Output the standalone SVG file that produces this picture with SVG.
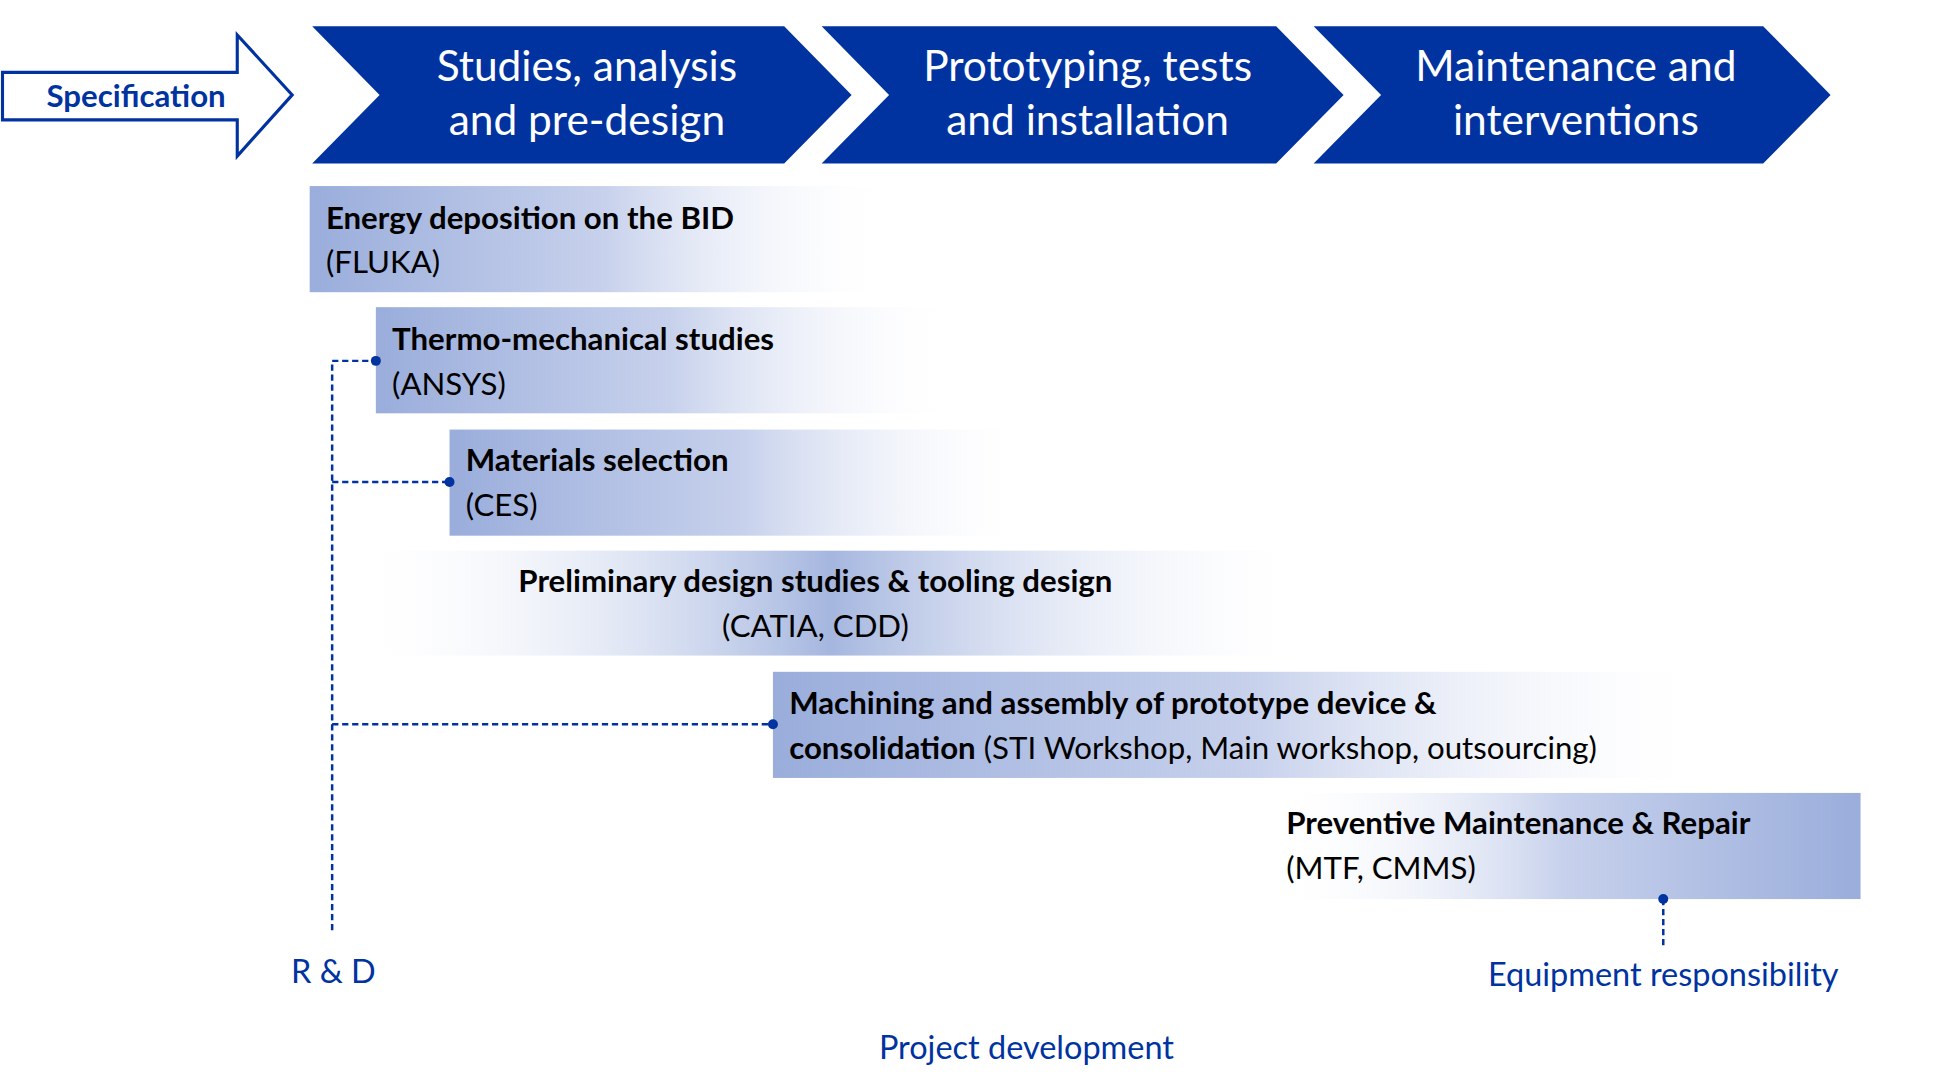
<svg xmlns="http://www.w3.org/2000/svg" width="1948" height="1088" viewBox="0 0 1948 1088">
<defs>
<style>
text{font-family:Lato,"Liberation Sans",sans-serif}
.h{fill:#fff;font-size:34px;text-anchor:middle}
.b{font-size:25px;font-weight:bold;fill:#000}
.n{font-size:25px;fill:#000}
.l{font-size:26px;fill:#0033a0;text-anchor:middle}
.d{stroke:#0033a0;stroke-width:2;stroke-dasharray:5,3;fill:none}
.dot{fill:#0033a0}
</style>
<linearGradient id="gR" x1="0" x2="1"><stop offset="0" stop-color="#9aaddb"/><stop offset="0.5" stop-color="#c7d1ec"/><stop offset="1" stop-color="#fff" stop-opacity="0"/></linearGradient>
<linearGradient id="gL" x1="0" x2="1"><stop offset="0" stop-color="#fff" stop-opacity="0"/><stop offset="0.5" stop-color="#c7d1ec"/><stop offset="1" stop-color="#9aaddb"/></linearGradient>
<linearGradient id="gM" x1="0" x2="1"><stop offset="0" stop-color="#fff" stop-opacity="0"/><stop offset="0.5" stop-color="#a5b6df"/><stop offset="1" stop-color="#fff" stop-opacity="0"/></linearGradient>
<linearGradient id="gLine" x1="0" x2="1"><stop offset="0" stop-color="#0033a0" stop-opacity="0"/><stop offset="0.3" stop-color="#0033a0"/><stop offset="0.7" stop-color="#0033a0"/><stop offset="1" stop-color="#0033a0" stop-opacity="0"/></linearGradient>
</defs>
<rect width="1948" height="1088" fill="#fff"/>
<g transform="scale(1.2487)">
<g id="spec">
<polygon points="2,58 190,58 190,28 234,76 190,125 190,96 2,96" fill="#fff" stroke="#0033a0" stroke-width="2.5"/>
<text x="109" y="86" style="font-size:25px;font-weight:bold;fill:#0033a0;text-anchor:middle">Specification</text>
</g>
<g id="phase1">
<polygon points="250,21 628,21 682,76 628,131 250,131 304,76" fill="#0033a0"/>
<text class="h" x="470" y="65">Studies, analysis</text><text class="h" x="470" y="108">and pre-design</text>
</g>
<g id="phase2">
<polygon points="658,21 1022,21 1076,76 1022,131 658,131 712,76" fill="#0033a0"/>
<text class="h" x="871" y="65">Prototyping, tests</text><text class="h" x="871" y="108">and installation</text>
</g>
<g id="phase3">
<polygon points="1052,21 1412,21 1466,76 1412,131 1052,131 1106,76" fill="#0033a0"/>
<text class="h" x="1262" y="65">Maintenance and</text><text class="h" x="1262" y="108">interventions</text>
</g>
<g id="energy"><rect x="248" y="149" width="472" height="85" fill="url(#gR)"/>
<text class="b" x="261" y="183">Energy deposition on the BID</text><text class="n" x="261" y="219">(FLUKA)</text></g>
<g id="thermo"><rect x="301" y="246" width="471" height="85" fill="url(#gR)"/>
<text class="b" x="314" y="280">Thermo-mechanical studies</text><text class="n" x="314" y="316">(ANSYS)</text></g>
<g id="materials"><rect x="360" y="344" width="472" height="85" fill="url(#gR)"/>
<text class="b" x="373" y="377">Materials selection</text><text class="n" x="373" y="413">(CES)</text></g>
<g id="prelim"><rect x="270" y="441" width="790" height="84" fill="url(#gM)"/>
<text class="b" x="653" y="474" text-anchor="middle">Preliminary design studies &amp; tooling design</text><text class="n" x="653" y="510" text-anchor="middle">(CATIA, CDD)</text></g>
<g id="machining"><rect x="619" y="538" width="771" height="85" fill="url(#gR)"/>
<text class="b" x="632" y="572">Machining and assembly of prototype device &amp;</text>
<text class="n" x="632" y="608"><tspan font-weight="bold">consolidation</tspan> (STI Workshop, Main workshop, outsourcing)</text></g>
<g id="maint"><rect x="1015" y="635" width="475" height="85" fill="url(#gL)"/>
<text class="b" x="1030" y="668">Preventive Maintenance &amp; Repair</text><text class="n" x="1030" y="704">(MTF, CMMS)</text></g>
<g id="connectors">
<path class="d" d="M266,745 V289 H301 M266,386 H360 M266,580 H619 M1332,720 V760"/>
<circle class="dot" cx="301" cy="289" r="4"/><circle class="dot" cx="360" cy="386" r="4"/><circle class="dot" cx="619" cy="580" r="4"/><circle class="dot" cx="1332" cy="720" r="4"/>
<line x1="475" y1="815" x2="1175" y2="815" stroke="url(#gLine)" stroke-width="3"/>
</g>
<g id="labels">
<text class="l" x="267" y="787">R &amp; D</text>
<text class="l" x="1332" y="790">Equipment responsibility</text>
<text class="l" x="822" y="848">Project development</text>
</g>
</g>
</svg>
